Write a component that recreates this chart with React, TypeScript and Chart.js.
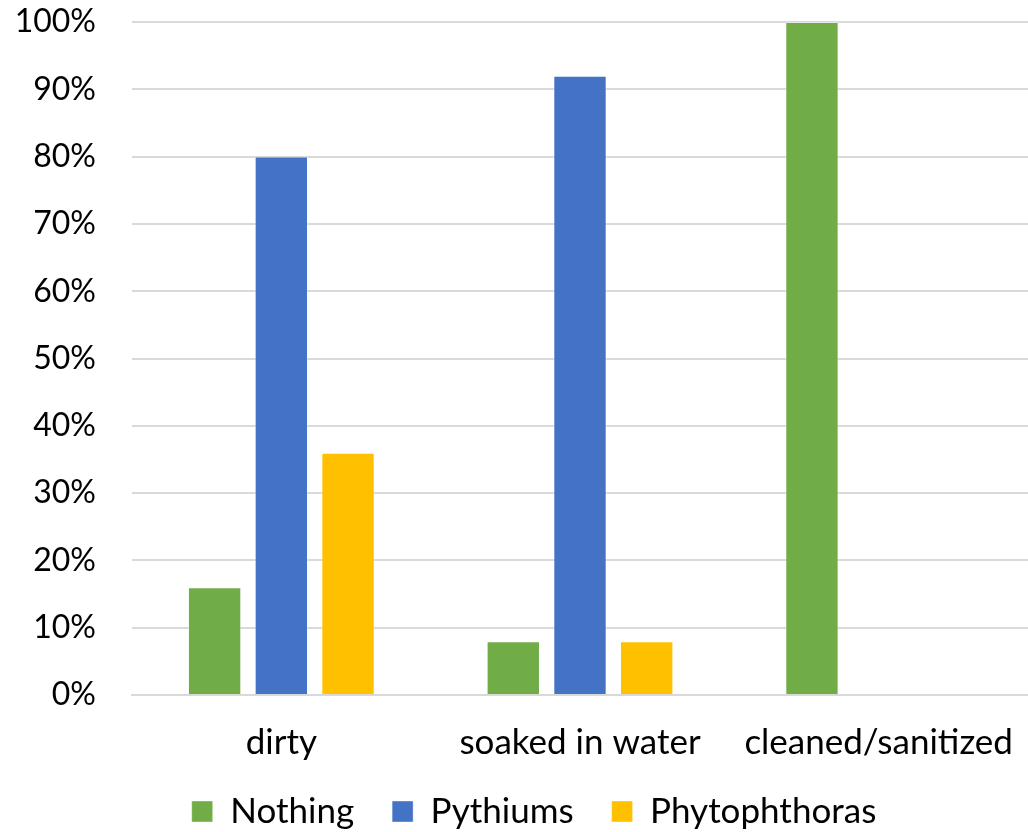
import React, { useEffect, useRef } from "react";
import { Chart, registerables } from "chart.js";

Chart.register(...registerables);

const categories = ["dirty", "soaked in water", "cleaned/sanitized"];
const nothingValues = [16, 8, 100];
const pythiumValues = [80, 92, 0];
const phytophthoraValues = [36, 8, 0];
const seriesNames = ["Nothing", "Pythiums", "Phytophthoras"];
const seriesColors = ["#70AD47", "#4472C4", "#FFC000"];

const FONT = "Lato, 'Open Sans', sans-serif";

const legendMover = {
  id: "legendMover",
  afterLayout(chart: any) {
    const lg = chart.legend;
    if (!lg) return;
    const p = lg.options.labels.padding;
    const desiredTop = 811.5 - 17.5 - p;
    const dy = desiredTop - lg.top;
    lg.top += dy;
    lg.bottom += dy;
    const dx = 20;
    lg.left += dx;
    lg.right += dx;
  },
};

export default function App() {
  const ref = useRef<HTMLCanvasElement | null>(null);
  useEffect(() => {
    if (!ref.current) return;
    const values = [nothingValues, pythiumValues, phytophthoraValues];
    const chart = new Chart(ref.current, {
      type: "bar",
      data: {
        labels: categories,
        datasets: seriesNames.map((name, i) => ({
          label: name,
          data: values[i],
          backgroundColor: seriesColors[i],
          borderColor: "rgba(255,255,255,0.4)",
          borderWidth: 1,
          categoryPercentage: 0.67,
          barPercentage: 0.8,
        })),
      },
      options: {
        animation: false,
        responsive: false,
        maintainAspectRatio: false,
        layout: { autoPadding: false, padding: { top: 22, left: 0, right: 0, bottom: -42 } },
        scales: {
          x: {
            afterFit: (scale: any) => {
              scale.paddingLeft = 0;
              scale.paddingRight = 0;
            },
            grid: { display: false, drawTicks: false },
            border: { display: true, color: "#D9D9D9", width: 2 },
            ticks: {
              color: "#000",
              font: { family: FONT, size: 35 },
              padding: 27,
              maxRotation: 0,
              autoSkip: false,
            },
          },
          y: {
            min: 0,
            max: 100,
            afterFit: (scale: any) => {
              scale.width = 132;
              scale.paddingTop = 0;
              scale.paddingBottom = 0;
            },
            grid: { color: "#D9D9D9", lineWidth: 2, drawTicks: false },
            border: { display: false },
            ticks: {
              stepSize: 10,
              color: "#000",
              font: { family: FONT, size: 32 },
              padding: 36,
              callback: (v: any) => v + "%",
            },
          },
        },
        plugins: {
          legend: {
            position: "bottom",
            labels: {
              color: "#000",
              font: { family: FONT, size: 35 },
              boxWidth: 21,
              boxHeight: 21,
              padding: 38,
            },
          },
          tooltip: { enabled: false },
        },
      },
      plugins: [legendMover],
    });
    return () => chart.destroy();
  }, []);
  return (
    <div style={{ position: "fixed", left: 0, top: 0, width: 1028, height: 832, background: "#fff" }}>
      <canvas ref={ref} width={1028} height={832} style={{ display: "block" }} />
    </div>
  );
}
